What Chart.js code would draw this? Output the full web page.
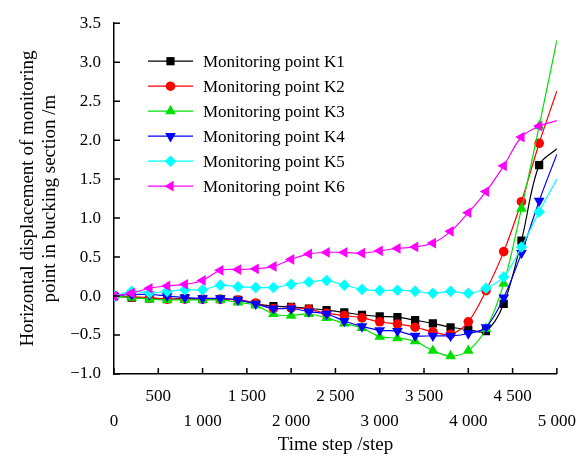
<!DOCTYPE html>
<html>
<head>
<meta charset="utf-8">
<script src="https://cdn.jsdelivr.net/npm/chart.js@4"></script>
<style>
  html, body { margin: 0; padding: 0; background: #fff; }
</style>
</head>
<body>
<canvas id="chart" width="586" height="457"></canvas>
<script>
const steps = [0, 200, 400, 600, 800, 1000, 1200, 1400, 1600, 1800, 2000, 2200, 2400,
  2600, 2800, 3000, 3200, 3400, 3600, 3800, 4000, 4200, 4400, 4600, 4800, 5000];

const k1 = [0, -0.02, -0.03, -0.04, -0.03, -0.04, -0.04, -0.05, -0.10, -0.13, -0.14, -0.16, -0.18,
  -0.21, -0.24, -0.26, -0.27, -0.31, -0.35, -0.40, -0.43, -0.45, -0.10, 0.71, 1.68, 1.89];
const k2 = [0, -0.01, -0.02, -0.04, -0.04, -0.04, -0.04, -0.05, -0.09, -0.16, -0.15, -0.17, -0.22,
  -0.25, -0.28, -0.33, -0.36, -0.40, -0.46, -0.49, -0.33, 0.07, 0.57, 1.21, 1.96, 2.63];
const k3 = [0, -0.02, -0.04, -0.05, -0.05, -0.05, -0.05, -0.08, -0.12, -0.23, -0.25, -0.23, -0.28,
  -0.35, -0.41, -0.52, -0.54, -0.58, -0.70, -0.77, -0.70, -0.42, 0.16, 1.12, 2.18, 3.28];
const k4 = [0, 0.02, 0.02, 0, -0.02, -0.03, -0.03, -0.05, -0.10, -0.16, -0.16, -0.20, -0.23,
  -0.32, -0.39, -0.44, -0.45, -0.51, -0.51, -0.51, -0.48, -0.40, -0.02, 0.55, 1.22, 1.82];
const k5 = [0, 0.06, 0.04, 0.06, 0.08, 0.08, 0.14, 0.12, 0.11, 0.11, 0.15, 0.18, 0.20,
  0.14, 0.085, 0.07, 0.075, 0.06, 0.035, 0.06, 0.035, 0.10, 0.245, 0.63, 1.08, 1.50];
const k6 = [0, 0.04, 0.10, 0.13, 0.15, 0.20, 0.33, 0.34, 0.35, 0.38, 0.47, 0.54, 0.56,
  0.56, 0.55, 0.58, 0.61, 0.63, 0.68, 0.83, 1.07, 1.34, 1.67, 2.04, 2.18, 2.25];

const seriesNames = ["Monitoring point K1", "Monitoring point K2", "Monitoring point K3",
  "Monitoring point K4", "Monitoring point K5", "Monitoring point K6"];
const seriesValues = [k1, k2, k3, k4, k5, k6];

const styles = [
  { color: "#000000", pointStyle: "rect", rotation: 0, radius: 5.8 },
  { color: "#ff0000", pointStyle: "circle", rotation: 0, radius: 4.8 },
  { color: "#00e000", pointStyle: "triangle", rotation: 0, radius: 6.2 },
  { color: "#0000ff", pointStyle: "triangle", rotation: 180, radius: 6.2 },
  { color: "#00ffff", pointStyle: "rectRot", rotation: 0, radius: 5.8 },
  { color: "#ff00ff", pointStyle: "triangle", rotation: -90, radius: 6.2 },
];

const FONT = "'Liberation Serif', 'Times New Roman', serif";

function fmtStep(v) {
  const s = String(v);
  return s.length > 3 ? s.slice(0, -3) + " " + s.slice(-3) : s;
}

const datasets = seriesValues.map((vals, i) => ({
  label: seriesNames[i],
  data: vals.map((v, j) => ({ x: steps[j], y: v })),
  borderColor: styles[i].color,
  backgroundColor: styles[i].color,
  borderWidth: 1.2,
  pointStyle: styles[i].pointStyle,
  rotation: styles[i].rotation,
  // last point has no marker in the original
  pointRadius: vals.map((v, j) => (j === vals.length - 1 ? 0 : styles[i].radius)),
  pointBorderWidth: 0,
  tension: 0.35,
  order: seriesValues.length - i,
}));

const innerTicks = {
  id: "innerTicks",
  afterDraw(chart) {
    const { ctx, chartArea: a, scales } = chart;
    ctx.save();
    ctx.strokeStyle = "#000";
    ctx.lineWidth = 1.5;
    ctx.beginPath();
    scales.x.ticks.forEach((t) => {
      const px = scales.x.getPixelForValue(t.value);
      ctx.moveTo(px, a.bottom);
      ctx.lineTo(px, a.bottom - 6);
    });
    scales.y.ticks.forEach((t) => {
      const py = scales.y.getPixelForValue(t.value);
      ctx.moveTo(a.left, py);
      ctx.lineTo(a.left + 6, py);
    });
    ctx.stroke();
    ctx.restore();
  },
};

const lineLegend = {
  id: "lineLegend",
  afterDraw(chart) {
    const { ctx, chartArea: a } = chart;
    const x0 = a.left + 34;
    const x1 = a.left + 79;
    ctx.save();
    chart.data.datasets.forEach((ds, i) => {
      const yy = a.top + 38 + i * 25;
      ctx.strokeStyle = ds.borderColor;
      ctx.lineWidth = 1.2;
      ctx.beginPath();
      ctx.moveTo(x0, yy);
      ctx.lineTo(x1, yy);
      ctx.stroke();
      ctx.fillStyle = ds.backgroundColor;
      Chart.helpers.drawPoint(ctx, {
        pointStyle: ds.pointStyle,
        rotation: ds.rotation,
        radius: styles[i].radius,
        borderWidth: 0,
      }, (x0 + x1) / 2, yy);
      ctx.fillStyle = "#000";
      ctx.font = "17px " + FONT;
      ctx.textBaseline = "middle";
      ctx.textAlign = "left";
      ctx.fillText(ds.label, x1 + 10, yy + 1);
    });
    ctx.restore();
  },
};

new Chart(document.getElementById("chart"), {
  type: "line",
  data: { datasets },
  plugins: [innerTicks, lineLegend],
  options: {
    responsive: false,
    animation: false,
    devicePixelRatio: 1,
    layout: { padding: { top: 19, right: 29, left: 0, bottom: 0 } },
    plugins: {
      legend: { display: false },
      tooltip: { enabled: false },
    },
    scales: {
      x: {
        type: "linear",
        min: 0,
        max: 5000,
        afterFit(scale) { scale.height = 83; },
        border: { display: true, color: "#000", width: 1.5 },
        grid: { display: false, drawTicks: false },
        ticks: {
          stepSize: 500,
          padding: 10,
          color: "#000",
          maxRotation: 0,
          autoSkip: false,
          font: { family: FONT, size: 17, lineHeight: 1.47 },
          callback: (v) => (v % 1000 === 0 ? ["", fmtStep(v)] : [fmtStep(v), ""]),
        },
        title: {
          display: true,
          text: "Time step /step",
          color: "#000",
          font: { family: FONT, size: 19 },
          padding: { top: 0, bottom: 1 },
        },
      },
      y: {
        min: -1,
        max: 3.5,
        afterFit(scale) { scale.width = 114; },
        border: { display: true, color: "#000", width: 1.5 },
        grid: { display: false, drawTicks: false },
        ticks: {
          stepSize: 0.5,
          padding: 13,
          color: "#000",
          font: { family: FONT, size: 17 },
          callback: (v) => v.toFixed(1).replace("-", "\u2212"),
        },
        title: {
          display: true,
          text: ["Horizontal displacement of monitoring", "point in bucking section /m"],
          color: "#000",
          font: { family: FONT, size: 19, lineHeight: 1.15 },
          padding: { top: 17, bottom: 0 },
        },
      },
    },
  },
});
</script>
</body>
</html>
